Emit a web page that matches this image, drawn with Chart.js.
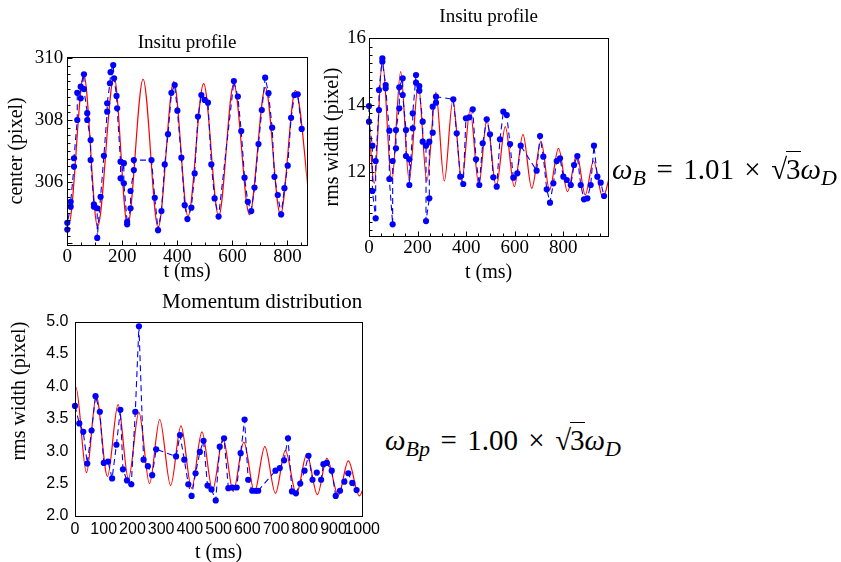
<!DOCTYPE html>
<html>
<head>
<meta charset="utf-8">
<script src="https://cdn.jsdelivr.net/npm/chart.js@4.4.1/dist/chart.umd.min.js"></script>
<style>
  html, body { margin: 0; padding: 0; background: #fff; overflow: hidden; }
  body { width: 841px; height: 562px; position: relative; font-family: "Liberation Serif", "Times New Roman", serif; color: #000; }
  canvas { position: absolute; }
  .formula { position: absolute; font-size: 29px; line-height: 30px; white-space: nowrap; }
  .formula sub { font-size: 22px; vertical-align: -6px; line-height: 0; }
  .op { margin: 0 0.36em; }
  .rad { border-top: 1.4px solid #000; padding-top: 1px; margin-left: -1px; }
</style>
</head>
<body>
<canvas id="centerChart" width="312" height="262" style="left:0px;top:28px"></canvas>
<canvas id="widthChart" width="297" height="290" style="left:318px;top:0px"></canvas>
<canvas id="momChart" width="384" height="282" style="left:0px;top:285px"></canvas>

<div class="formula" style="left:612px;top:154px"><i>ω</i><sub><i>B</i></sub><span class="op">=</span>1.01<span class="op">×</span>√<span class="rad">3</span><i>ω</i><sub><i>D</i></sub></div>
<div class="formula" style="left:385px;top:425px"><i>ω</i><sub><i>Bp</i></sub><span class="op">=</span>1.00<span class="op">×</span>√<span class="rad">3</span><i>ω</i><sub><i>D</i></sub></div>

<script>
// ---- In-situ profile: cloud centre (pixel) vs time (ms) ----
const centerT = [0, 0, 12.3, 12.3, 24.3, 24.3, 36.2, 36.2, 48.6, 48.6, 60.5, 60.5, 72.5, 72.5, 84.8, 84.8,
  96.8, 96.8, 108.7, 108.7, 121, 133, 145, 145, 155, 157.3, 166.8, 170, 179, 181.2, 193.5, 193.5, 205.5, 205.5,
  217.5, 217.5, 229.8, 229.8, 241.8, 241.8, 306, 317.9, 329.8, 342.2, 354.1, 366, 378.4, 390.3, 400,
  414.6, 426.6, 436.4, 450.9, 462.8, 474.8, 487.1, 499.1, 511.1, 523.4, 535.3, 549.8, 605.3, 619.8,
  632.1, 644.1, 656, 668.4, 680.3, 694.8, 706.8, 719.1, 731.1, 744.5, 752.8, 764.8, 777.1, 789.1,
  801, 813.3, 825.3, 837.3, 851.8];
const centerPx = [304.45, 304.67, 305.19, 305.35, 306.49, 306.76, 308.00, 308.88, 308.70, 309.08, 309.48, 309.00,
  308.22, 308.00, 307.35, 306.70, 305.27, 305.19, 305.14, 304.18, 305.51, 306.84, 308.27, 308.54, 309.19, 309.55,
  309.78, 309.35, 308.78, 308.38, 306.65, 306.11, 306.60, 305.95, 304.70, 304.62, 305.14, 305.70, 306.38, 306.70,
  306.70, 305.48, 304.43, 305.05, 306.56, 307.54, 308.88, 309.13, 308.30, 306.78, 305.24, 304.79, 305.16, 306.27,
  308.11, 308.81, 308.65, 308.56, 306.56, 305.46, 304.87, 309.26, 308.76, 307.64, 306.13, 305.35, 305.05, 305.81,
  307.22, 308.32, 309.37, 308.87, 307.75, 306.16, 305.57, 304.94, 305.79, 306.52, 308.07, 308.81, 308.83, 307.71];
// fitted oscillation: turning points
const centerFitT = [-50, 5, 60, 110, 170, 219, 275.5, 330, 387, 438.6, 495.5, 550, 605, 662, 720, 774.5, 829, 884];
const centerFitPx = [309.55, 304.62, 309.47, 304.55, 309.40, 304.58, 309.32, 304.52, 309.24, 304.88, 309.18,
  304.88, 309.17, 304.93, 309.05, 304.93, 308.95, 304.98];
const centerTicksX = [0, 200, 400, 600, 800];
const centerTicksY = [306, 308, 310];

// ---- In-situ profile: rms width (pixel) vs time (ms) ----
const widthT = [0, 0, 14, 14, 27.5, 27.5, 41, 41, 55, 55, 68.6, 68.6, 83.7, 83.7, 97.4, 97.4, 111, 111,
  124.7, 124.7, 138.7, 138.7, 152.3, 152.3, 166, 166, 180, 180, 193.6, 193.6, 207, 207, 221, 221,
  234.7, 234.7, 248.3, 248.3, 262.2, 262.2, 275.8, 275.8, 347, 361, 375.6, 388, 399, 413, 427, 440.5,
  454, 468, 484.5, 498, 511.7, 525.7, 539, 553, 567, 580.5, 594, 610.5, 624.5, 690, 704, 717.6, 731.6,
  745, 758.8, 772.7, 786.3, 800, 814, 830.6, 844, 857.6, 871.5, 885, 898.7, 912.6, 926, 940, 953.8, 967.5];
const widthPx = [13.97, 13.50, 12.78, 11.42, 10.60, 12.32, 13.85, 14.45, 15.40, 15.30, 14.60, 14.50, 13.23, 11.78,
  10.42, 12.32, 12.70, 13.25, 13.90, 14.53, 14.80, 14.30, 13.25, 12.47, 12.37, 11.60, 13.30, 13.75, 14.90, 14.67,
  14.57, 14.43, 13.50, 12.90, 12.78, 10.52, 11.20, 12.90, 13.17, 13.95, 14.07, 14.25, 14.17, 13.15, 11.85, 11.63,
  13.60, 13.63, 13.87, 12.37, 11.60, 12.85, 13.57, 13.12, 11.83, 11.55, 12.97, 13.80, 13.70, 12.83, 11.82, 11.95,
  12.78, 12.03, 13.07, 12.45, 11.47, 11.07, 11.65, 12.32, 12.40, 11.85, 11.75, 11.60, 12.20, 12.47, 11.60, 11.17,
  11.20, 11.60, 12.78, 11.85, 11.67, 11.27];
const widthFitT = [-15, 22, 55, 93.5, 130.5, 165, 203, 238, 275, 310, 345, 382, 416, 452, 485, 523.7, 561, 598,
  633.7, 670, 707.8, 743, 780, 817, 855.7, 890, 924, 962, 998];
const widthFitPx = [15.6, 11.65, 15.35, 11.70, 15.00, 11.75, 14.62, 11.72, 14.38, 11.72, 14.13, 11.72, 13.85, 11.60,
  13.55, 11.55, 13.35, 11.55, 13.12, 11.50, 12.92, 11.45, 12.70, 11.40, 12.52, 11.30, 12.32, 11.23, 12.10];
const widthTicksX = [0, 200, 400, 600, 800];
const widthTicksY = [12, 14, 16];

// ---- Momentum distribution: rms width (pixel) vs time (ms) ----
const momT = [0, 15, 28.8, 42.7, 57.7, 71.5, 86.5, 100.3, 115.3, 129.2, 144.2, 158, 167, 181, 196, 210, 222.6,
  238.8, 253.7, 268.7, 282.6, 351.8, 365.6, 380.6, 394.5, 406, 419.8, 434.8, 447.5, 461.4, 475.2, 490, 504,
  519, 534, 548, 563, 576.7, 590.5, 603, 617, 628.5, 638, 698, 713, 728, 741.6, 755.5, 769.3, 784.3, 799.3,
  813, 827, 841.9, 856.9, 865, 876.6, 893.9, 907.7, 922.7, 937.7, 951.6, 965.4, 980.4];
const momPx = [3.70, 3.43, 3.30, 2.81, 3.32, 3.85, 3.61, 2.82, 2.84, 2.58, 3.10, 3.64, 2.72, 2.55, 2.49, 3.61, 4.93,
  2.87, 2.77, 2.63, 3.03, 2.92, 3.25, 2.87, 2.49, 2.31, 2.66, 2.99, 3.16, 2.47, 2.41, 2.24, 3.07, 3.20, 2.43,
  2.44, 2.44, 2.97, 3.49, 2.56, 2.39, 2.39, 2.39, 2.70, 2.74, 2.86, 3.20, 2.38, 2.35, 2.50, 2.70, 2.93, 2.56,
  2.67, 2.56, 2.80, 2.82, 2.70, 2.31, 2.39, 2.53, 2.66, 2.51, 2.40];
const momFitT = [-35, 3, 40, 74, 113, 150, 186, 222.6, 259.5, 295, 333, 369, 406, 442, 479, 515.6, 551, 588, 625,
  661, 698, 732.4, 771, 807, 844, 877, 917, 951.6, 990, 1025];
const momFitPx = [2.70, 3.99, 2.67, 3.85, 2.61, 3.72, 2.57, 3.60, 2.50, 3.49, 2.47, 3.39, 2.43, 3.30, 2.40, 3.20,
  2.38, 3.14, 2.37, 3.07, 2.35, 3.01, 2.34, 2.95, 2.33, 2.89, 2.32, 2.85, 2.31, 2.80];
const momTicksX = [0, 100, 200, 300, 400, 500, 600, 700, 800, 900, 1000];
const momTicksY = [2.0, 2.5, 3.0, 3.5, 4.0, 4.5, 5.0];

const SERIF = '"Liberation Serif", "Times New Roman", serif';
const SANS = '"Liberation Sans", Arial, sans-serif';
Chart.defaults.color = '#000';
Chart.defaults.font.family = SERIF;

const pts = (xs, ys) => xs.map((x, i) => ({ x, y: ys[i] }));
const setTicks = vals => scale => { scale.ticks = vals.map(v => ({ value: v })); };

// Plot frame plus small inward tick marks along the bottom and left edges
const frame = {
  id: 'frame',
  afterDraw(chart, args, opts) {
    const { ctx, chartArea: a } = chart;
    ctx.save();
    ctx.strokeStyle = '#000';
    ctx.lineWidth = 1;
    const L = Math.round(a.left) + 0.5, T = Math.round(a.top) + 0.5;
    const R = Math.round(a.right) + 0.5, B = Math.round(a.bottom) + 0.5;
    ctx.strokeRect(L, T, R - L, B - T);
    ctx.beginPath();
    if (opts.xStep) {
      const s = chart.scales.x;
      for (let k = Math.ceil(s.min / opts.xStep); k * opts.xStep <= s.max + 1e-9; k++) {
        const v = k * opts.xStep;
        const px = Math.round(s.getPixelForValue(v)) + 0.5;
        const major = Math.abs(v / opts.xMajor - Math.round(v / opts.xMajor)) < 1e-6;
        ctx.moveTo(px, B);
        ctx.lineTo(px, B - (major ? 5 : 3));
      }
    }
    if (opts.yStep) {
      const s = chart.scales.y;
      for (let k = Math.ceil(s.min / opts.yStep - 1e-9); k * opts.yStep <= s.max + 1e-9; k++) {
        const v = k * opts.yStep;
        const py = Math.round(s.getPixelForValue(v)) + 0.5;
        const major = Math.abs(v / opts.yMajor - Math.round(v / opts.yMajor)) < 1e-6;
        ctx.moveTo(L, py);
        ctx.lineTo(L + (major ? 5 : 3), py);
      }
    }
    ctx.stroke();
    ctx.restore();
  }
};

function makeChart(id, cfg) {
  const tickFont = cfg.tickFont;
  return new Chart(document.getElementById(id), {
    type: 'scatter',
    data: {
      datasets: [
        {
          data: cfg.points,
          showLine: true,
          borderColor: '#0000ff',
          borderWidth: 1.1,
          borderDash: [6, 4],
          pointRadius: 3.1,
          pointBackgroundColor: '#0000ff',
          pointBorderWidth: 0,
          clip: 6
        },
        {
          data: cfg.fit,
          showLine: true,
          borderColor: '#ff0000',
          borderWidth: 1.2,
          pointRadius: 0,
          cubicInterpolationMode: 'monotone'
        }
      ]
    },
    options: {
      responsive: false,
      animation: false,
      events: [],
      layout: { padding: { left: 0, right: cfg.padRight, top: 0, bottom: 0 } },
      plugins: {
        legend: { display: false },
        tooltip: { enabled: false },
        title: {
          display: true,
          text: cfg.title,
          fullSize: false,
          align: cfg.titleAlign,
          font: { family: SERIF, size: cfg.titleSize, weight: 'normal' },
          padding: cfg.titlePad
        },
        frame: cfg.frame
      },
      scales: {
        x: {
          type: 'linear',
          min: cfg.xMin, max: cfg.xMax,
          afterBuildTicks: setTicks(cfg.xTicks),
          afterFit: s => { s.height = cfg.xAxisH; },
          grid: { display: false, drawTicks: false },
          border: { display: false },
          ticks: { font: tickFont, padding: cfg.xTickPad, autoSkip: false, maxRotation: 0, minRotation: 0,
                   callback: v => String(v) },
          title: { display: true, text: 't (ms)', font: { family: SERIF, size: 20 }, padding: { top: 0, bottom: cfg.xTitlePad } }
        },
        y: {
          type: 'linear',
          min: cfg.yMin, max: cfg.yMax,
          afterBuildTicks: setTicks(cfg.yTicks),
          afterFit: s => { s.width = cfg.yAxisW; },
          grid: { display: false, drawTicks: false },
          border: { display: false },
          ticks: { font: tickFont, padding: cfg.yTickPad, callback: cfg.yFmt },
          title: { display: true, text: cfg.yTitle, align: cfg.yTitleAlign, font: { family: SERIF, size: 20 }, padding: { top: cfg.yTitlePad, bottom: 0 } }
        }
      }
    },
    plugins: [frame]
  });
}

makeChart('centerChart', {
  points: pts(centerT, centerPx),
  fit: pts(centerFitT, centerFitPx),
  title: 'Insitu profile', titleAlign: 'center', titleSize: 19, titlePad: { top: 4, bottom: 1.9 },
  tickFont: { family: SERIF, size: 19 },
  xMin: 0, xMax: 870, xTicks: centerTicksX, xAxisH: 45, xTickPad: 0.5, xTitlePad: 6.5,
  yMin: 303.95, yMax: 310.05, yTicks: centerTicksY, yAxisW: 67.3, yTickPad: 4,
  yFmt: v => String(v), yTitle: 'center (pixel)', yTitleAlign: 'center', yTitlePad: 4.7,
  padRight: 5.3,
  frame: { xStep: 50, xMajor: 200, yStep: 0.25, yMajor: 2 }
});

makeChart('widthChart', {
  points: pts(widthT, widthPx),
  fit: pts(widthFitT, widthFitPx),
  title: 'Insitu profile', titleAlign: 'center', titleSize: 19, titlePad: { top: 6, bottom: 9.5 },
  tickFont: { family: SERIF, size: 19 },
  xMin: 0, xMax: 985, xTicks: widthTicksX, xAxisH: 54.3, xTickPad: 1, xTitlePad: 5.3,
  yMin: 10.08, yMax: 16, yTicks: widthTicksY, yAxisW: 51, yTickPad: 3,
  yFmt: v => String(v), yTitle: 'rms width (pixel)', yTitleAlign: 'center', yTitlePad: 3,
  padRight: 6.7,
  frame: { xStep: 50, xMajor: 200, yStep: 0.25, yMajor: 2 }
});

makeChart('momChart', {
  points: pts(momT, momPx),
  fit: pts(momFitT, momFitPx),
  title: 'Momentum distribution', titleAlign: 'end', titleSize: 21, titlePad: { top: 4.7, bottom: 6.8 },
  tickFont: { family: SANS, size: 16 },
  xMin: 0, xMax: 1000, xTicks: momTicksX, xAxisH: 51, xTickPad: 4, xTitlePad: 2,
  yMin: 2, yMax: 5, yTicks: momTicksY, yAxisW: 75, yTickPad: 6.5,
  yFmt: v => v.toFixed(1), yTitle: 'rms width (pixel)', yTitleAlign: 'end', yTitlePad: 8,
  padRight: 20,
  frame: {}
});
</script>
</body>
</html>
